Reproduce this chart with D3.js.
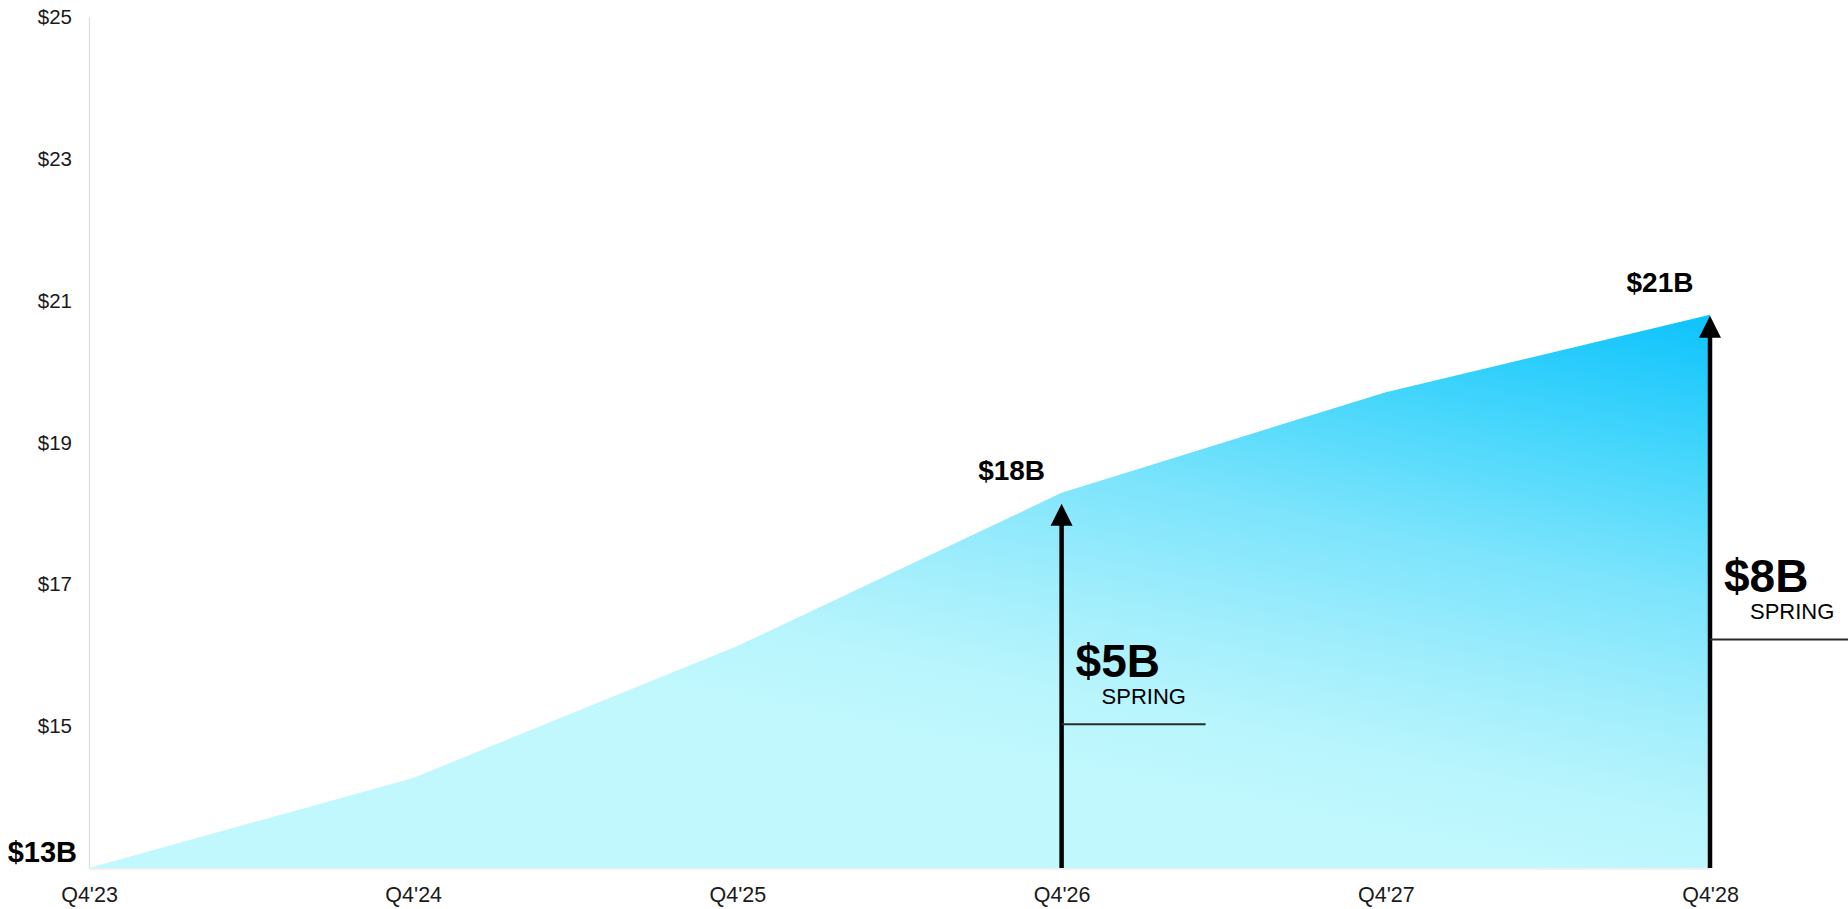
<!DOCTYPE html>
<html>
<head>
<meta charset="utf-8">
<script src="https://cdn.jsdelivr.net/npm/d3@7"></script>
<style>
  html, body { margin: 0; padding: 0; background: #ffffff; }
  svg { display: block; }
  text { font-family: "Liberation Sans", Arial, Helvetica, sans-serif; }
</style>
</head>
<body>
<svg id="chart" width="1848" height="909"></svg>
<script>
// Revenue outlook, $ billions
const quarters = ["Q4'23", "Q4'24", "Q4'25", "Q4'26", "Q4'27", "Q4'28"];
const revenue  = [13.0, 14.27, 16.13, 18.29, 19.71, 20.8];
const yTicks   = [15, 17, 19, 21, 23, 25];
const baseValue = 13;

// Quarters that carry a growth arrow (their totals are labelled above the tip)
const arrowQuarters = ["Q4'26", "Q4'28"];
const arrowCaption = "SPRING";

// Arrow layout: gap below the area edge (px) and height of the caption rule
// as a share of the arrow length
const arrowLayout = {
  "Q4'26": { gap: 11, ruleFrac: 0.395 },
  "Q4'28": { gap: 1,  ruleFrac: 0.414 }
};

const W = 1848, H = 909;
const svg = d3.select("#chart");

const x = d3.scalePoint().domain(quarters).range([89, 1710]).padding(0);
const y = d3.scaleLinear().domain([13, 25]).range([868, 17]);

const data = quarters.map((q, i) => ({ q, v: revenue[i] }));
const byQ = new Map(data.map(d => [d.q, d.v]));
const fmtB = v => "$" + Math.round(v) + "B";

// Gradient: pale cyan in the lower left, deep sky blue toward the upper right
const defs = svg.append("defs");
const grad = defs.append("linearGradient")
  .attr("id", "areaFill")
  .attr("gradientUnits", "userSpaceOnUse")
  .attr("x1", 1598).attr("y1", 880)
  .attr("x2", 1712).attr("y2", 318);
[[0, "#c0f8fd"], [0.14, "#b8f5fd"], [0.3, "#a2eefc"], [0.52, "#7ce4fc"],
 [0.75, "#46d6fc"], [1, "#0ec3fc"]].forEach(([o, c]) =>
  grad.append("stop").attr("offset", o).attr("stop-color", c));

// faint baseline
svg.append("line")
  .attr("x1", x(quarters[0])).attr("x2", x(quarters[quarters.length - 1]))
  .attr("y1", y(baseValue) + 1).attr("y2", y(baseValue) + 1)
  .attr("stroke", "#f0f0f0").attr("stroke-width", 2);

// area
const area = d3.area()
  .x(d => x(d.q))
  .y0(y(baseValue))
  .y1(d => y(d.v));
svg.append("path")
  .datum(data)
  .attr("d", area)
  .attr("fill", "url(#areaFill)");

// y axis
const yAxis = d3.axisLeft(y)
  .tickValues(yTicks)
  .tickSize(0)
  .tickPadding(17)
  .tickFormat(d => "$" + d);
const gy = svg.append("g")
  .attr("transform", `translate(${x(quarters[0])},0)`)
  .call(yAxis);
gy.select(".domain").attr("stroke", "#dcdcdc").attr("stroke-width", 1.2);
gy.selectAll(".tick text")
  .attr("font-size", 20.5)
  .attr("fill", "#1a1a1a")
  .style("font-family", "'Liberation Sans', Arial, sans-serif");

// x axis
const xAxis = d3.axisBottom(x).tickSize(0).tickPadding(19);
const gx = svg.append("g")
  .attr("transform", `translate(0,${y(baseValue)})`)
  .call(xAxis);
gx.select(".domain").remove();
gx.selectAll(".tick text")
  .attr("font-size", 21.5)
  .attr("fill", "#1a1a1a")
  .style("font-family", "'Liberation Sans', Arial, sans-serif");

// starting value at the left edge
svg.append("text")
  .attr("x", x(quarters[0]) - 12)
  .attr("y", y(baseValue) - 6)
  .attr("text-anchor", "end")
  .attr("font-size", 29)
  .attr("font-weight", "bold")
  .attr("fill", "#000")
  .text(fmtB(revenue[0]));

// growth arrows
const headH = 22, headW = 22;
arrowQuarters.forEach(q => {
  const v = byQ.get(q);
  const lay = arrowLayout[q];
  const ax = x(q);
  const yBase = y(baseValue);
  const yTip = y(v) + lay.gap;

  svg.append("line")
    .attr("x1", ax).attr("x2", ax)
    .attr("y1", yBase).attr("y2", yTip + headH - 2)
    .attr("stroke", "#000").attr("stroke-width", 4.5);
  svg.append("path")
    .attr("d", `M${ax},${yTip} L${ax + headW / 2},${yTip + headH} L${ax - headW / 2},${yTip + headH} Z`)
    .attr("fill", "#000");

  // rule under the caption
  const ruleY = yBase - lay.ruleFrac * (yBase - yTip);
  const isLast = q === quarters[quarters.length - 1];
  svg.append("line")
    .attr("x1", ax).attr("x2", isLast ? W : ax + 144)
    .attr("y1", ruleY).attr("y2", ruleY)
    .attr("stroke", "#2b2b2b").attr("stroke-width", 2);

  svg.append("text")
    .attr("x", ax + 14)
    .attr("y", ruleY - 47)
    .attr("font-size", 46)
    .attr("font-weight", "bold")
    .attr("fill", "#000")
    .text(fmtB(v - baseValue));
  svg.append("text")
    .attr("x", ax + 40)
    .attr("y", ruleY - 20)
    .attr("font-size", 22)
    .attr("fill", "#000")
    .text(arrowCaption);

  // total above the arrow tip
  svg.append("text")
    .attr("x", ax - 50)
    .attr("y", yTip - 24)
    .attr("text-anchor", "middle")
    .attr("font-size", 28)
    .attr("font-weight", "bold")
    .attr("fill", "#000")
    .text(fmtB(v));
});
</script>
</body>
</html>
